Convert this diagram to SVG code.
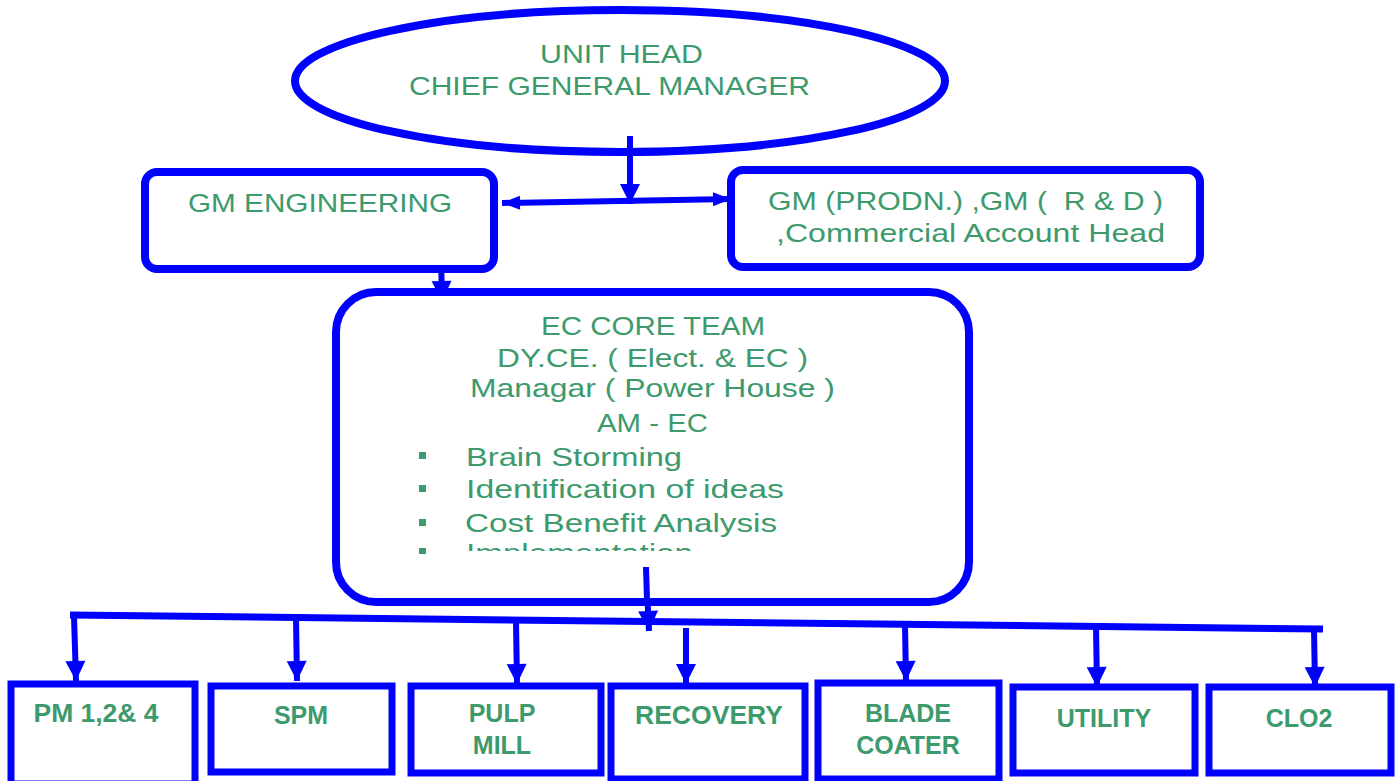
<svg xmlns="http://www.w3.org/2000/svg" width="1395" height="781" viewBox="0 0 1395 781">
<style>
.box{fill:#fff;stroke:#0000ff;stroke-width:8}
.sbox{fill:#fff;stroke:#0000ff;stroke-width:7}
.t{font-family:"Liberation Sans",Arial,sans-serif;font-size:26px;fill:#3d9a6c}
.b{font-family:"Liberation Sans",Arial,sans-serif;font-size:25px;font-weight:bold;fill:#3d9a6c;text-anchor:middle}
.c{fill:none;stroke:#0000ff;stroke-width:6}
.bus{fill:none;stroke:#0000ff;stroke-width:7}
.bul{fill:#3d9a6c}
</style>
<defs>
<marker id="ah" markerUnits="userSpaceOnUse" markerWidth="24" markerHeight="24" viewBox="0 0 24 24" refX="22" refY="12" orient="auto">
<path d="M2,2 L22,12 L2,22 Z" fill="#0000ff"/>
</marker>
<marker id="ahs" markerUnits="userSpaceOnUse" markerWidth="20" markerHeight="20" viewBox="0 0 20 20" refX="19" refY="10" orient="auto-start-reverse">
<path d="M1,3 L19,10 L1,17 Z" fill="#0000ff"/>
</marker>
<clipPath id="clipEC"><rect x="340" y="300" width="620" height="251"/></clipPath>
</defs>

<g id="connectors">
<line class="c" x1="630" y1="136" x2="630" y2="204" marker-end="url(#ah)"/>
<line class="c" x1="502" y1="203" x2="731" y2="199" marker-start="url(#ahs)" marker-end="url(#ahs)"/>
<line class="c" x1="441" y1="255" x2="442" y2="301" marker-end="url(#ah)"/>
<line class="c" x1="646" y1="567" x2="649" y2="631" marker-end="url(#ah)"/>
<line class="bus" x1="70" y1="615" x2="1323" y2="629"/>
<line class="c" x1="74" y1="616" x2="76" y2="681" marker-end="url(#ah)"/>
<line class="c" x1="296" y1="618" x2="297" y2="681" marker-end="url(#ah)"/>
<line class="c" x1="516" y1="621" x2="517" y2="684" marker-end="url(#ah)"/>
<line class="c" x1="686" y1="628" x2="686" y2="684" marker-end="url(#ah)"/>
<line class="c" x1="905" y1="625" x2="906" y2="681" marker-end="url(#ah)"/>
<line class="c" x1="1096" y1="627" x2="1097" y2="687" marker-end="url(#ah)"/>
<line class="c" x1="1314" y1="629" x2="1315" y2="687" marker-end="url(#ah)"/>
</g>

<g id="unit-head">
<ellipse cx="620" cy="81" rx="325" ry="71" fill="#fff" stroke="#0000ff" stroke-width="8"/>
<text class="t" x="540" y="63" textLength="163" lengthAdjust="spacingAndGlyphs">UNIT HEAD</text>
<text class="t" x="409" y="95" textLength="401" lengthAdjust="spacingAndGlyphs">CHIEF GENERAL MANAGER</text>
</g>
<line class="c" x1="630" y1="136" x2="630" y2="160"/>

<g id="gm-engineering">
<rect class="box" x="145" y="172" width="349" height="97" rx="12"/>
<text class="t" x="188" y="212" textLength="264" lengthAdjust="spacingAndGlyphs">GM ENGINEERING</text>
</g>

<g id="gm-prodn">
<rect class="box" x="731" y="170" width="469" height="97" rx="12"/>
<text class="t" x="768" y="210" textLength="395" lengthAdjust="spacingAndGlyphs" xml:space="preserve">GM (PRODN.) ,GM (  R &amp; D )</text>
<text class="t" x="776" y="242" textLength="389" lengthAdjust="spacingAndGlyphs">,Commercial Account Head</text>
</g>

<g id="ec-core-team">
<rect class="box" x="336" y="292" width="633" height="310" rx="40"/>
<text class="t" x="541" y="335" textLength="224" lengthAdjust="spacingAndGlyphs">EC CORE TEAM</text>
<text class="t" x="497" y="367" textLength="311" lengthAdjust="spacingAndGlyphs">DY.CE. ( Elect. &amp; EC )</text>
<text class="t" x="470" y="397" textLength="365" lengthAdjust="spacingAndGlyphs">Managar ( Power House )</text>
<text class="t" x="597" y="432" textLength="111" lengthAdjust="spacingAndGlyphs">AM - EC</text>
<rect class="bul" x="419" y="452" width="7" height="7"/>
<text class="t" x="466" y="466" textLength="216" lengthAdjust="spacingAndGlyphs">Brain Storming</text>
<rect class="bul" x="419" y="485" width="7" height="7"/>
<text class="t" x="466" y="498" textLength="318" lengthAdjust="spacingAndGlyphs">Identification of ideas</text>
<rect class="bul" x="419" y="519" width="7" height="7"/>
<text class="t" x="465" y="532" textLength="312" lengthAdjust="spacingAndGlyphs">Cost Benefit Analysis</text>
<rect class="bul" x="419" y="548" width="7" height="6"/>
<text class="t" x="466" y="562" textLength="227" lengthAdjust="spacingAndGlyphs" clip-path="url(#clipEC)">Implementation</text>
</g>
<line class="c" x1="646" y1="567" x2="647" y2="600"/>

<g id="pm124">
<rect class="sbox" x="11" y="684" width="184" height="100"/>
<text class="b" x="96" y="722" textLength="125" lengthAdjust="spacingAndGlyphs">PM 1,2&amp; 4</text>
</g>
<g id="spm">
<rect class="sbox" x="211" y="686" width="181" height="86"/>
<text class="b" x="301" y="724">SPM</text>
</g>
<g id="pulp-mill">
<rect class="sbox" x="411" y="686" width="190" height="87"/>
<text class="b" x="502" y="722">PULP</text>
<text class="b" x="502" y="754">MILL</text>
</g>
<g id="recovery">
<rect class="sbox" x="611" y="686" width="194" height="93"/>
<text class="b" x="709" y="724" textLength="148" lengthAdjust="spacingAndGlyphs">RECOVERY</text>
</g>
<g id="blade-coater">
<rect class="sbox" x="818" y="683" width="181" height="96"/>
<text class="b" x="908" y="722">BLADE</text>
<text class="b" x="908" y="754">COATER</text>
</g>
<g id="utility">
<rect class="sbox" x="1013" y="687" width="182" height="86"/>
<text class="b" x="1104" y="727">UTILITY</text>
</g>
<g id="clo2">
<rect class="sbox" x="1209" y="687" width="182" height="86"/>
<text class="b" x="1299" y="727">CLO2</text>
</g>
</svg>
